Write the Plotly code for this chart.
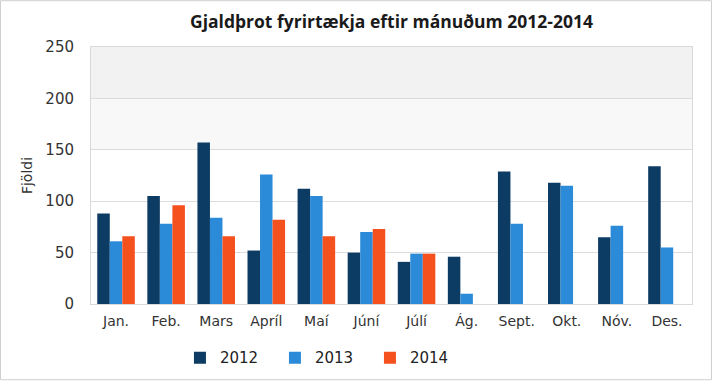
import plotly.graph_objects as go

months = ["Jan.", "Feb.", "Mars", "Apríl", "Maí", "Júní", "Júlí", "Ág.", "Sept.", "Okt.", "Nóv.", "Des."]
v2012 = [88, 105, 157, 52, 112, 50, 41, 46, 129, 118, 65, 134]
v2013 = [61, 78, 84, 126, 105, 70, 49, 10, 78, 115, 76, 55]
v2014 = [66, 96, 66, 82, 66, 73, 49, None, None, None, None, None]

y_ticks = [0, 50, 100, 150, 200, 250]

c2012 = "#0c3b64"
c2013 = "#2c8bd8"
c2014 = "#f4511e"

fig = go.Figure()
fig.add_trace(go.Bar(x=months, y=v2012, name="2012", marker=dict(color=c2012, line=dict(width=0))))
fig.add_trace(go.Bar(x=months, y=v2013, name="2013", marker=dict(color=c2013, line=dict(width=0))))
fig.add_trace(go.Bar(x=months, y=v2014, name="2014", marker=dict(color=c2014, line=dict(width=0))))

font_family = "DejaVu Sans, Verdana, sans-serif"

fig.update_layout(
    width=713, height=385,
    margin=dict(l=91, r=21, t=47, b=80),
    paper_bgcolor="white",
    plot_bgcolor="white",
    barmode="group",
    bargap=0.25,
    bargroupgap=0,
    title=dict(text="<b>Gjaldþrot fyrirtækja eftir mánuðum 2012-2014</b>",
               x=0.5, xref="paper", xanchor="center", y=0.943, yanchor="middle",
               font=dict(family="Open Sans, sans-serif", size=17.5, color="#1a1a1a")),
    font=dict(family=font_family, size=14, color="#333333"),
    showlegend=True,
    legend=dict(orientation="h", x=0.148, xanchor="left", y=-0.205, yanchor="middle",
                font=dict(family=font_family, size=15, color="#222222"),
                itemwidth=30, entrywidth=50, entrywidthmode="pixels",
                traceorder="normal"),
    xaxis=dict(showgrid=False, showline=True, linecolor="#d9d9d9", linewidth=1, mirror=True,
               ticks="", ticklabelstandoff=4, tickfont=dict(size=14, color="#333333")),
    yaxis=dict(range=[0, 250], tickvals=y_ticks, showgrid=True, gridcolor="#dcdcdc", gridwidth=1,
               showline=True, linecolor="#d9d9d9", linewidth=1, mirror=True, zeroline=False,
               ticks="", ticklabelstandoff=13,
               tickfont=dict(size=15, color="#333333"),
               title=dict(text="Fjöldi", standoff=9, font=dict(size=14, color="#333333"))),
    shapes=[
        dict(type="rect", xref="paper", yref="y", x0=0, x1=1, y0=200, y1=250,
             fillcolor="#f2f2f2", line=dict(width=0), layer="below"),
        dict(type="rect", xref="paper", yref="y", x0=0, x1=1, y0=150, y1=200,
             fillcolor="#f8f8f8", line=dict(width=0), layer="below"),
        dict(type="rect", xref="paper", yref="paper", x0=-0.1506, x1=1.0324, y0=-0.2946, y1=1.1802,
             fillcolor="rgba(0,0,0,0)", line=dict(width=1, color="#cfcfcf")),
    ],
)

fig.write_html("out.html", config={"displayModeBar": False},
               post_script="document.body.style.margin='0';document.body.style.padding='0';")
